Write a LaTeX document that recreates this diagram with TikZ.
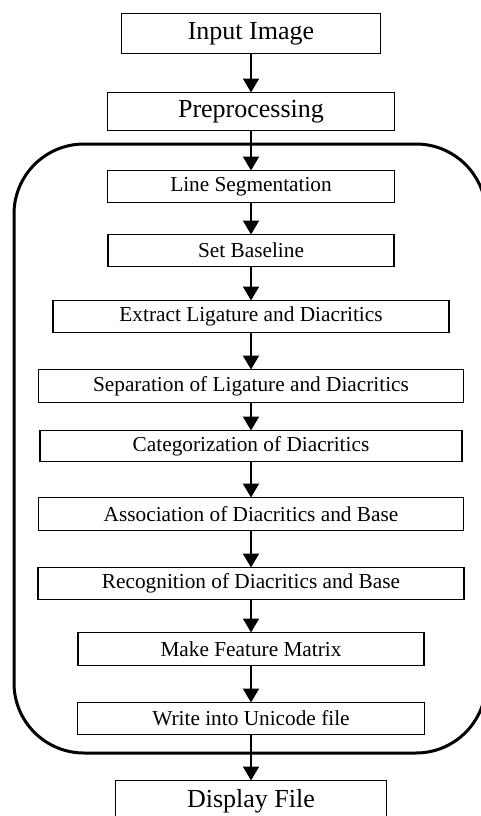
\documentclass[tikz,border=0pt]{standalone}
\usepackage{fontspec}
\setmainfont{Liberation Serif}
\usetikzlibrary{arrows.meta,positioning}

\begin{document}
\begin{tikzpicture}[
 outer/.style={draw, line width=1.5pt, inner sep=0pt, outer sep=0pt, minimum height=40pt, font=\fontsize{26}{30}\selectfont},
 stage/.style={draw, line width=1.5pt, inner sep=0pt, outer sep=0pt, minimum height=32pt, font=\fontsize{21.3}{25}\selectfont},
 arr/.style={-{Triangle[width=16pt,length=14pt]}, line width=2pt}]

 \useasboundingbox (0pt,0pt) rectangle (480pt,-816pt);

 % --- input side ---
 \node[outer, minimum width=259pt] (inp) at (251pt,-33.5pt) {Input Image};
 \node[outer, minimum width=287pt, minimum height=38pt, below=39pt of inp] (pre) {Preprocessing};

 % --- recognition stages ---
 \node[stage, minimum width=287pt, below=40pt of pre] (lseg) {Line Segmentation};
 \node[stage, minimum width=286pt, below=32pt of lseg] (base) {Set Baseline};
 \node[stage, minimum width=396pt, below=34pt of base] (extr) {Extract Ligature and Diacritics};
 \node[stage, minimum width=425pt, minimum height=33pt, below=37pt of extr] (sepr) {Separation of Ligature and Diacritics};
 \node[stage, minimum width=422pt, minimum height=31pt, below=28pt of sepr] (catg) {Categorization of Diacritics};
 \node[stage, minimum width=425pt, minimum height=33pt, below=36pt of catg] (assoc) {Association of Diacritics and Base};
 \node[stage, minimum width=426pt, below=37pt of assoc] (recog) {Recognition of Diacritics and Base};
 \node[stage, minimum width=346pt, minimum height=33pt, below=33pt of recog] (feat) {Make Feature Matrix};
 \node[stage, minimum width=347pt, below=37pt of feat] (uni) {Write into Unicode file};

 % --- output ---
 \node[outer, minimum width=271pt, minimum height=41pt, below=46pt of uni] (disp) {Display File};

 \draw[line width=3pt, rounded corners=70pt] (14pt,-144pt) rectangle (486pt,-753pt);

 \draw[arr] (inp) -- (pre);
 \draw[arr] (pre) -- (lseg);
 \draw[arr] (lseg) -- (base);
 \draw[arr] (base) -- (extr);
 \draw[arr] (extr) -- (sepr);
 \draw[arr] (sepr) -- (catg);
 \draw[arr] (catg) -- (assoc);
 \draw[arr] (assoc) -- (recog);
 \draw[arr] (recog) -- (feat);
 \draw[arr] (feat) -- (uni);
 \draw[arr] (uni) -- (disp);
\end{tikzpicture}
\end{document}
